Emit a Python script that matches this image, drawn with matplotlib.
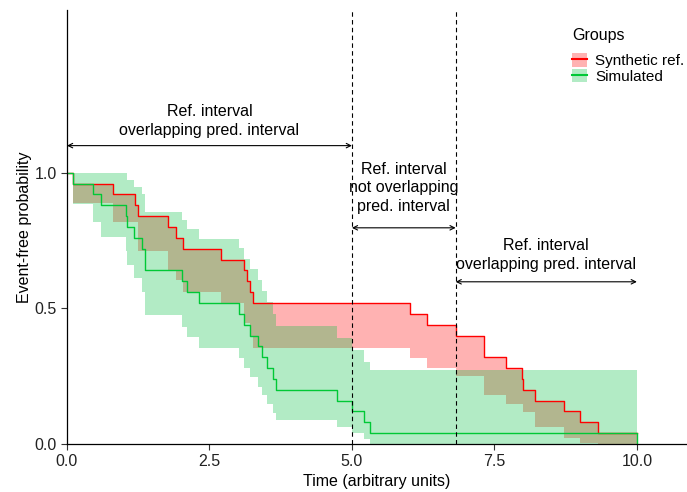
import numpy as np
import matplotlib
matplotlib.use("Agg")
import matplotlib.pyplot as plt
from matplotlib.patches import Patch
from matplotlib.lines import Line2D

plt.rcParams["font.family"] = ["Liberation Sans", "DejaVu Sans"]

# =========================
# data
# =========================
# synthetic reference: KM step + lower bound of its band (band top = the curve)
ref_time = [0.0, 0.10, 0.80, 1.20, 1.25, 1.77, 1.92, 2.03, 2.71, 3.11, 3.16, 3.21, 3.26,
            6.02, 6.31, 6.82, 7.32, 7.71, 7.98, 8.01, 8.22, 8.72, 9.00, 9.32, 10.0]
ref_surv = [1.00, 0.96, 0.92, 0.88, 0.84, 0.80, 0.76, 0.72, 0.68, 0.64, 0.60, 0.56, 0.52,
            0.48, 0.44, 0.40, 0.32, 0.28, 0.24, 0.20, 0.16, 0.12, 0.08, 0.04, 0.04]
ref_lower = [1.00, 0.888, 0.82, 0.82, 0.71, 0.642, 0.605, 0.562, 0.52, 0.445, 0.445, 0.40, 0.355,
             0.318, 0.28, 0.25, 0.18, 0.148, 0.148, 0.118, 0.064, 0.022, 0.005, 0.0, 0.0]

# simulated: KM step + prediction interval
sim_time = [0.0, 0.105, 0.456, 0.60, 1.035, 1.06, 1.17, 1.32, 1.36, 2.01, 2.11, 2.32, 3.01,
            3.11, 3.21, 3.36, 3.42, 3.51, 3.61, 3.66, 4.73, 5.01, 5.22, 5.32, 10.0]
sim_surv = [1.00, 0.96, 0.92, 0.88, 0.84, 0.80, 0.76, 0.72, 0.64, 0.60, 0.56, 0.52, 0.48,
            0.44, 0.40, 0.36, 0.32, 0.28, 0.24, 0.20, 0.16, 0.12, 0.08, 0.04, 0.0]
sim_upper = [1.00, 1.00, 1.00, 1.00, 1.00, 0.974, 0.947, 0.92, 0.857, 0.824, 0.792, 0.755, 0.722,
             0.683, 0.644, 0.605, 0.565, 0.525, 0.48, 0.435, 0.39, 0.347, 0.304, 0.273, 0.273]
sim_lower = [1.00, 0.886, 0.82, 0.763, 0.71, 0.66, 0.611, 0.562, 0.476, 0.433, 0.396, 0.355, 0.318,
             0.28, 0.246, 0.211, 0.18, 0.146, 0.113, 0.089, 0.064, 0.04, 0.017, 0.0, 0.0]

# interval boundaries used for the annotations
cut_a = 5.0
cut_b = 6.82
t_max = 10.0

group_labels = ["Synthetic ref.", "Simulated"]
red = "#FF0000"
green = "#00C836"
green_fill = "#00C040"

# =========================
# plot
# =========================
fig = plt.figure(figsize=(6.87, 4.92), dpi=100)
ax = fig.add_axes([67 / 687, 48 / 492, 620 / 687, 434 / 492])

ax.fill_between(ref_time, ref_lower, ref_surv, step="post",
                color=red, alpha=0.3, linewidth=0)
ax.step(ref_time, ref_surv, where="post", color=red, linewidth=1.0)

ax.fill_between(sim_time, sim_lower, sim_upper, step="post",
                color=green_fill, alpha=0.3, linewidth=0)
ax.step(sim_time, sim_surv, where="post", color=green, linewidth=1.0)

for xv in (cut_a, cut_b):
    ax.axvline(xv, color="black", linewidth=0.8, linestyle=(0, (4, 3)))

arrow = dict(arrowstyle="<->", color="black", lw=0.8, shrinkA=0, shrinkB=0,
             mutation_scale=8)
txt = dict(ha="center", va="center", fontsize=11.5, linespacing=1.3)

ax.annotate("", xy=(cut_a, 1.10), xytext=(0.0, 1.10), arrowprops=arrow)
ax.text(cut_a / 2, 1.19, "Ref. interval\noverlapping pred. interval", **txt)

ax.annotate("", xy=(cut_b, 0.797), xytext=(cut_a, 0.797), arrowprops=arrow)
ax.text((cut_a + cut_b) / 2, 0.945, "Ref. interval\nnot overlapping\npred. interval", **txt)

ax.annotate("", xy=(t_max, 0.598), xytext=(cut_b, 0.598), arrowprops=arrow)
ax.text((cut_b + t_max) / 2, 0.697, "Ref. interval\noverlapping pred. interval", **txt)

ax.set_xlim(0, 10.88)
ax.set_ylim(0, 1.60)
ax.set_xticks([0, 2.5, 5, 7.5, 10])
ax.set_xticklabels(["0.0", "2.5", "5.0", "7.5", "10.0"])
ax.set_yticks([0, 0.5, 1.0])
ax.set_yticklabels(["0.0", "0.5", "1.0"])
ax.tick_params(labelsize=11.5, length=4, width=0.8, colors="#333333", labelcolor="#222222")

ax.set_xlabel("Time (arbitrary units)", fontsize=11.5, labelpad=3)
ax.set_ylabel("Event-free probability", fontsize=11.5, labelpad=2)

ax.spines["top"].set_visible(False)
ax.spines["right"].set_visible(False)
ax.spines["left"].set_linewidth(0.9)
ax.spines["bottom"].set_linewidth(0.9)

handles = [
    (Patch(facecolor=red, alpha=0.3, linewidth=0), Line2D([], [], color=red, linewidth=1.5)),
    (Patch(facecolor=green_fill, alpha=0.3, linewidth=0), Line2D([], [], color=green, linewidth=1.5)),
]
leg = fig.legend(handles, group_labels, title="Groups", loc="upper left",
                 bbox_to_anchor=(566 / 687, 470 / 492), frameon=False,
                 fontsize=11, title_fontsize=11.5, handlelength=1.0, handleheight=1.0,
                 handletextpad=0.5, labelspacing=0.05, borderaxespad=0)
leg._legend_box.align = "left"
leg._legend_box.sep = 7

fig.savefig("out.png", dpi=100)
